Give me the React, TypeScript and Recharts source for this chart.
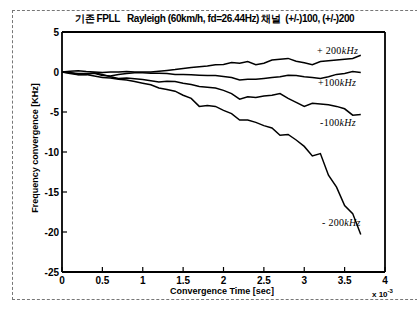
import React from "react";
import { LineChart, Line, XAxis, YAxis } from "recharts";

// time (x 10^-3 sec)
const times = [0, 0.1, 0.2, 0.3, 0.4, 0.5, 0.6, 0.7, 0.8, 0.9, 1.0, 1.1, 1.2, 1.3, 1.4, 1.5, 1.6, 1.7, 1.8, 1.9, 2.0, 2.1, 2.2, 2.3, 2.4, 2.5, 2.6, 2.7, 2.8, 2.9, 3.0, 3.1, 3.2, 3.3, 3.4, 3.5, 3.6, 3.7];

const plus200 = [0, 0.1, 0.15, 0.05, 0.0, -0.05, 0.0, 0.0, 0.05, 0.0, 0.0, 0.0, 0.1, 0.2, 0.3, 0.45, 0.55, 0.65, 0.75, 0.9, 0.95, 1.2, 1.1, 1.3, 0.9, 1.1, 1.5, 1.6, 1.7, 1.35, 1.15, 0.9, 1.3, 1.4, 1.5, 1.6, 1.7, 2.1];
const plus100 = [0, -0.1, -0.2, -0.2, -0.15, -0.45, -0.5, -0.3, -0.2, -0.1, -0.1, -0.15, -0.15, -0.2, -0.3, -0.3, -0.35, -0.4, -0.45, -0.45, -0.55, -0.7, -1.0, -0.9, -0.9, -0.8, -0.7, -0.6, -0.4, -0.45, -0.6, -0.7, -0.8, -0.6, -0.3, -0.2, 0.05, -0.05];
const minus100 = [0, -0.05, -0.3, -0.3, -0.1, -0.3, -0.6, -0.8, -0.75, -0.85, -0.95, -1.1, -1.25, -1.15, -1.2, -1.4, -1.55, -1.8, -1.9, -2.0, -2.3, -2.7, -3.4, -3.1, -3.2, -3.0, -2.9, -2.7, -3.3, -3.8, -4.3, -3.9, -4.0, -4.1, -4.3, -4.6, -5.4, -5.3];
const minus200 = [0, -0.2, -0.35, -0.3, -0.5, -0.7, -0.75, -0.9, -1.0, -1.2, -1.4, -1.6, -2.0, -2.2, -2.4, -2.9, -3.3, -4.3, -4.2, -4.3, -4.8, -5.2, -6.0, -6.0, -6.3, -6.7, -7.0, -7.9, -7.8, -8.5, -9.3, -10.5, -10.2, -12.9, -14.4, -16.7, -17.7, -20.3];

const xTicks = [0, 0.5, 1, 1.5, 2, 2.5, 3, 3.5, 4];
const yTicks = [-25, -20, -15, -10, -5, 0, 5];

const title = "기존 FPLL   Rayleigh (60km/h, fd=26.44Hz) 채널  (+/-)100, (+/-)200";
const xLabel = "Convergence Time [sec]";
const yLabel = "Frequency convergence [KHz]";
const seriesSigns = ["+ 200", "+100", "-100", "- 200"];
const seriesUnit = "kHz";

const data = times.map((t, i) => ({
  t,
  p200: plus200[i],
  p100: plus100[i],
  m100: minus100[i],
  m200: minus200[i],
}));

const font = "'Liberation Sans', Arial, sans-serif";
const tickStyle = { fontSize: 10, fill: "#000", fontFamily: font, fontWeight: 700 };

export default function App() {
  const txt = (s: React.ReactNode, left: number, top: number, extra: React.CSSProperties = {}) => (
    <div
      style={{
        position: "absolute",
        left,
        top,
        fontFamily: font,
        fontSize: 10,
        color: "#000",
        whiteSpace: "pre",
        lineHeight: 1,
        ...extra,
      }}
    >
      {s}
    </div>
  );
  const serLabel = (i: number, left: number, top: number) =>
    txt(
      <>
        {seriesSigns[i]}
        <span style={{ fontStyle: "italic" }}>{seriesUnit}</span>
      </>,
      left,
      top,
      { fontSize: 10, fontFamily: "'Liberation Serif', serif", letterSpacing: 0.3 }
    );
  return (
    <div style={{ position: "absolute", left: 0, top: 0, width: 417, height: 310, background: "#fff", overflow: "hidden" }}>
      <div
        style={{
          position: "absolute",
          left: 12,
          top: 10,
          width: 420,
          height: 288,
          borderTop: "1px dashed #777",
          borderLeft: "1px dashed #777",
          borderBottom: "1px dashed #777",
        }}
      />
      <LineChart
        width={417}
        height={310}
        data={data}
        margin={{ top: 31, right: 31, bottom: 8, left: 22 }}
        style={{ position: "absolute", left: 0, top: 0 }}
      >
        <XAxis
          dataKey="t"
          type="number"
          domain={[0, 4]}
          ticks={xTicks}
          height={30}
          tickSize={-5}
          tickMargin={10}
          tick={tickStyle}
          axisLine={{ stroke: "#000", strokeWidth: 1.8 }}
          tickLine={{ stroke: "#000", strokeWidth: 1.2 }}
          interval={0}
        />
        <XAxis
          xAxisId="top"
          orientation="top"
          dataKey="t"
          type="number"
          domain={[0, 4]}
          ticks={xTicks}
          height={1}
          tickSize={-5}
          tick={false}
          axisLine={{ stroke: "#000", strokeWidth: 1.8 }}
          tickLine={{ stroke: "#000", strokeWidth: 1.2 }}
          interval={0}
        />
        <YAxis
          type="number"
          domain={[-25, 5]}
          ticks={yTicks}
          width={40}
          tickSize={-5}
          tickMargin={8}
          tick={tickStyle}
          axisLine={{ stroke: "#000", strokeWidth: 1.8 }}
          tickLine={{ stroke: "#000", strokeWidth: 1.2 }}
          interval={0}
        />
        <YAxis
          yAxisId="right"
          orientation="right"
          type="number"
          domain={[-25, 5]}
          ticks={yTicks}
          width={1}
          tickSize={-5}
          tick={false}
          axisLine={{ stroke: "#000", strokeWidth: 1.8 }}
          tickLine={{ stroke: "#000", strokeWidth: 1.2 }}
          interval={0}
        />
        <Line dataKey="p200" stroke="#000" strokeWidth={1.5} dot={false} isAnimationActive={false} type="linear" />
        <Line dataKey="p100" stroke="#000" strokeWidth={1.5} dot={false} isAnimationActive={false} type="linear" />
        <Line dataKey="m100" stroke="#000" strokeWidth={1.5} dot={false} isAnimationActive={false} type="linear" />
        <Line
          dataKey="m200"
          xAxisId="top"
          yAxisId="right"
          stroke="#000"
          strokeWidth={1.5}
          dot={false}
          isAnimationActive={false}
          type="linear"
        />
      </LineChart>
      {txt(title, 75, 14, { fontSize: 10, fontWeight: 700, letterSpacing: -0.4 })}
      {txt(xLabel, 170, 287, { fontSize: 9, fontWeight: 700 })}
      {txt(yLabel, 35, 148, {
        fontSize: 9,
        fontWeight: 700,
        transform: "translate(-50%, -50%) rotate(-90deg)",
        transformOrigin: "center",
      })}
      <div style={{ position: "absolute", left: 372, top: 291, fontFamily: font, fontSize: 8, fontWeight: 700, lineHeight: 1, whiteSpace: "pre" }}>
        x 10<span style={{ fontSize: 6, position: "relative", top: -4 }}>-3</span>
      </div>
      {serLabel(0, 317, 46)}
      {serLabel(1, 318, 78)}
      {serLabel(2, 320, 118)}
      {serLabel(3, 322, 218)}
    </div>
  );
}
